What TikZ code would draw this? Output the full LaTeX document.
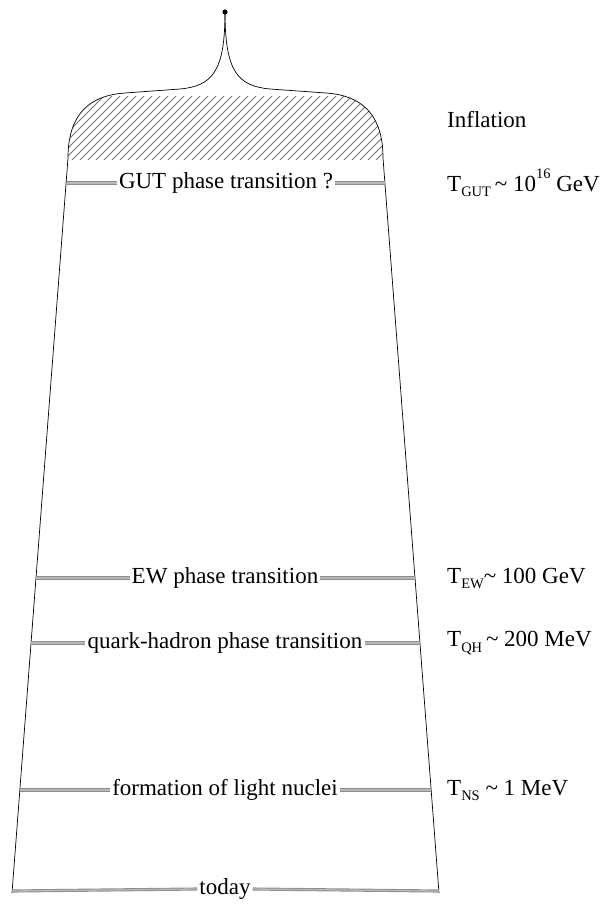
\documentclass[tikz,border=0pt]{standalone}
\usepackage{fontspec}
\setmainfont{Liberation Serif}
\usetikzlibrary{calc}
\newcommand{\mysub}[1]{\raisebox{-0.22em}{\fontsize{14.5}{16}\selectfont #1}}
\newcommand{\mysup}[1]{\raisebox{0.55em}{\fontsize{14.5}{16}\selectfont #1}}
\begin{document}
\begin{tikzpicture}[x=1pt,y=-1pt,
  lbl/.style={font=\fontsize{23}{27}\selectfont, inner sep=2pt, fill=white},
  rlbl/.style={font=\fontsize{23}{27}\selectfont, anchor=west, inner sep=0pt},
  era/.style={draw=gray!90, double=gray!55, line width=0.9pt, double distance=1.3pt},
  wall/.style={draw=black, line width=0.7pt},
  hatch/.style={draw=black!55, line width=0.9pt}]
\useasboundingbox (0,0) rectangle (603,908);
% outline of the early universe
\coordinate (top) at (225,12);
\coordinate (lc) at (68,158);
\coordinate (rc) at (383,158);
\coordinate (lb) at (12,893);
\coordinate (rb) at (439,893);
% hatched inflation region
\begin{scope}
  \clip (68,160) -- (68,158) .. controls (68,125) and (80,96) .. (125,93) -- (186,89)
        -- (265,89) -- (326,93) .. controls (371,96) and (383,125) .. (383,158) -- (383,160) -- cycle;
  \clip (0,96) rectangle (603,159);
  \foreach \i in {-20,...,70} {
    \draw[hatch] (\i*8,160) -- ++(70,-70);
  }
\end{scope}
\draw[wall] (top) .. controls (225,72) and (212,86) .. (180,89) -- (125,93)
  .. controls (80,96) and (68,125) .. (lc) -- (lb);
\draw[wall] (top) .. controls (225,72) and (238,86) .. (270,89) -- (326,93)
  .. controls (371,96) and (383,125) .. (rc) -- (rb);
\fill (top) circle (2.6);
% eras
\coordinate (gutL) at (66.5,183);  \coordinate (gutR) at (384.5,183);
\coordinate (ewL) at (36,578);     \coordinate (ewR) at (415,578);
\coordinate (qhL) at (31.1,643);   \coordinate (qhR) at (419.9,643);
\coordinate (nsL) at (19.8,790);   \coordinate (nsR) at (431.2,790);
\coordinate (tdL) at (12.2,891);   \coordinate (tdR) at (438.8,891);
\node[lbl] (gut) at (226,183) {GUT phase transition ?};
\node[lbl] (ew) at (225,578) {EW phase transition};
\node[lbl] (qh) at (225,643) {quark-hadron phase transition};
\node[lbl] (ns) at (225,790) {formation of light nuclei};
\node[lbl] (td) at (225,889) {today};
\draw[era] (gutL) -- (gut.west); \draw[era] (gut.east) -- (gutR);
\draw[era] (ewL) -- (ew.west);   \draw[era] (ew.east) -- (ewR);
\draw[era] (qhL) -- (qh.west);   \draw[era] (qh.east) -- (qhR);
\draw[era] (nsL) -- (ns.west);   \draw[era] (ns.east) -- (nsR);
\draw[era] (tdL) -- (td.west);   \draw[era] (td.east) -- (tdR);
% right labels
\node[rlbl] (infl) at (447,120) {Inflation};
\node[rlbl] (tgut) at (447,183) {T\mysub{GUT}\,\textasciitilde\ 10\mysup{16}\ GeV};
\node[rlbl] (tew) at (447,578) {T\mysub{EW}\textasciitilde\ 100 GeV};
\node[rlbl] (tqh) at (447,643) {T\mysub{QH}\,\textasciitilde\ 200 MeV};
\node[rlbl] (tns) at (447,790) {T\mysub{NS}\ \textasciitilde\ 1 MeV};
\end{tikzpicture}
\end{document}
